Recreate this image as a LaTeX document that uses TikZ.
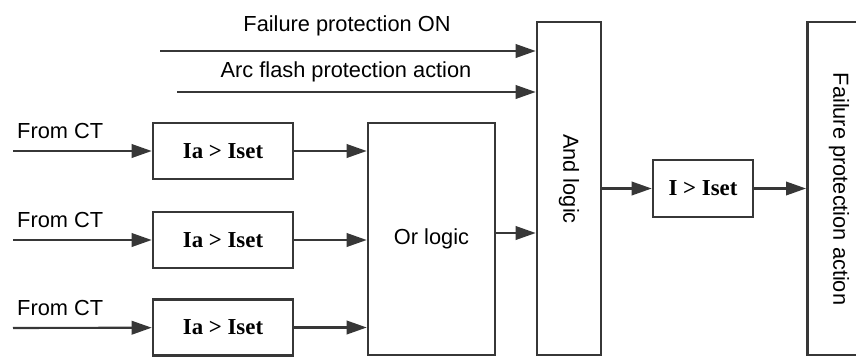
\documentclass[tikz,border=0pt]{standalone}
\usepackage{fontspec}
\setmainfont{Liberation Sans}
\newfontfamily\boxfont{Liberation Serif}
\usetikzlibrary{arrows.meta}
\definecolor{linegray}{RGB}{55,55,55}

\begin{document}
\begin{tikzpicture}[x=0.02cm,y=-0.02cm,
    font=\fontsize{12.4}{14}\selectfont,
    arr/.style={-{Triangle[length=0.4cm,width=0.27cm]},line width=1.2pt,linegray},
    blk/.style={draw=linegray,line width=1.5pt,inner sep=0pt},
    cmp/.style={blk,minimum width=2.8cm,minimum height=1.12cm,font=\boxfont\bfseries\fontsize{13}{14}\selectfont}]
    \useasboundingbox (0,0) rectangle (856,356);
    \clip (0,0) rectangle (856,356);

    % Comparators
    \node[cmp] (ia1) at (223,151) {Ia > Iset};
    \node[cmp] (ia2) at (223,240) {Ia > Iset};
    \node[cmp] (ia3) at (223,327.5) {Ia > Iset};

    % Logic blocks
    \node[blk,minimum width=2.54cm,minimum height=4.64cm] (orl) at (431.5,239) {Or logic};
    \node[blk,minimum width=1.28cm,minimum height=6.66cm] (andl) at (569,188.5) {};
    \node[rotate=-90] (andtxt) at (569,179) {And logic};
    \node[cmp,minimum width=2.0cm,minimum height=1.14cm] (iset) at (703,188.5) {I > Iset};
    \node[blk,minimum width=1.7cm,minimum height=6.66cm,anchor=west] (fail) at (806,188.5) {};
    \node[rotate=-90] (failtxt) at (839,189) {Failure protection action};

    % Inputs
    \foreach \n/\y in {1/151,2/240,3/328}{
        \coordinate (ct\n) at (13,\y);
        \node[anchor=west] (ctl\n) at (11,\y-20) {From CT};
        \draw[arr] (ct\n) -- (ia\n);
        \draw[arr] (ia\n) -- (ia\n -| orl.west);
    }

    % Signals into and logic
    \coordinate (on) at (160,51);
    \coordinate (arc) at (177,92);
    \node (ontxt) at (347,26) {Failure protection ON};
    \node (arctxt) at (346,72) {Arc flash protection action};
    \draw[arr] (on) -- (on -| andl.west);
    \draw[arr] (arc) -- (arc -| andl.west);
    \draw[arr] (orl.east |- 0,233) -- (andl.west |- 0,233);

    % Output
    \draw[arr] (andl) -- (iset);
    \draw[arr] (iset) -- (iset -| fail.west);
\end{tikzpicture}
\end{document}
